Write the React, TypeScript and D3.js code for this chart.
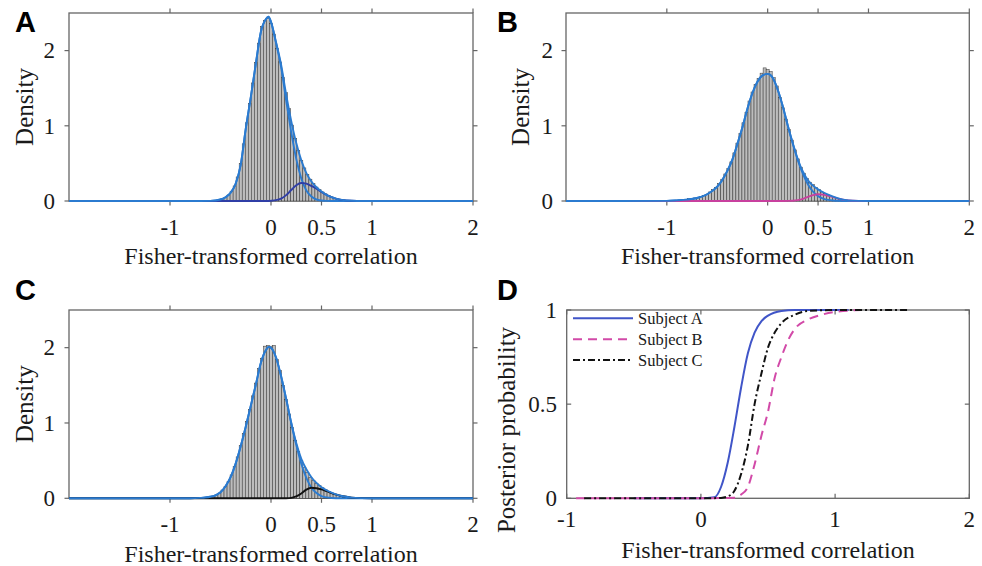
import React from "react";
import * as d3 from "d3";

const W = 982;
const H = 566;
const SERIF = "'Liberation Serif', 'Times New Roman', serif";
const SANS = "'Liberation Sans', Arial, sans-serif";

// ---------- Data ----------
const binWidth = 0.03;
const xTicksHist = [-1, 0, 0.5, 1, 2];
const yTicksHist = [0, 1, 2];
const xTicksD = [-1, 0, 1, 2];
const yTicksD = [0, 0.5, 1];

// Panel A
const histAFirst = -0.54;
const histA = [0.01, 0.015, 0.03, 0.05, 0.08, 0.13, 0.2, 0.32, 0.5, 0.76, 1.04, 1.3, 1.57, 1.84, 2.1, 2.32, 2.4, 2.43, 2.36, 2.22, 2.03, 1.85, 1.64, 1.44, 1.23, 1.01, 0.83, 0.67, 0.54, 0.44, 0.35, 0.29, 0.23, 0.185, 0.15, 0.12, 0.095, 0.072, 0.053, 0.038, 0.027, 0.019, 0.013, 0.009, 0.005];
const curveXA = [-2, -0.7, -0.6, -0.5, -0.45, -0.4, -0.35, -0.3, -0.25, -0.2, -0.15, -0.1, -0.05, -0.025, 0, 0.05, 0.1, 0.15, 0.2, 0.25, 0.3, 0.35, 0.4, 0.45, 0.5, 0.55, 0.6, 0.65, 0.7, 0.8, 0.9, 1.0, 2];
const mainA = [0, 0, 0.002, 0.02, 0.05, 0.11, 0.23, 0.48, 0.96, 1.38, 1.83, 2.25, 2.42, 2.45, 2.38, 2.1, 1.78, 1.34, 0.92, 0.56, 0.3, 0.14, 0.06, 0.02, 0.006, 0.001, 0, 0, 0, 0, 0, 0, 0];
const bumpA = [0, 0, 0, 0, 0, 0, 0, 0, 0, 0, 0, 0, 0, 0, 0.003, 0.011, 0.032, 0.078, 0.146, 0.21, 0.24, 0.23, 0.2, 0.163, 0.12, 0.081, 0.051, 0.029, 0.015, 0.003, 0, 0, 0];
const mixA = [0, 0, 0.002, 0.02, 0.05, 0.11, 0.23, 0.48, 0.96, 1.38, 1.83, 2.25, 2.42, 2.45, 2.383, 2.111, 1.812, 1.418, 1.066, 0.77, 0.54, 0.37, 0.26, 0.183, 0.126, 0.082, 0.051, 0.029, 0.015, 0.003, 0, 0, 0];

// Panel B
const histBFirst = -0.81;
const histB = [0.02, 0.03, 0.035, 0.04, 0.05, 0.06, 0.075, 0.09, 0.12, 0.15, 0.18, 0.23, 0.29, 0.36, 0.43, 0.52, 0.64, 0.77, 0.9, 1.04, 1.18, 1.33, 1.45, 1.55, 1.63, 1.7, 1.77, 1.75, 1.72, 1.64, 1.53, 1.38, 1.24, 1.09, 0.95, 0.81, 0.68, 0.56, 0.45, 0.37, 0.3, 0.25, 0.22, 0.18, 0.15, 0.12, 0.1, 0.08, 0.06, 0.045, 0.035, 0.025, 0.018, 0.012, 0.008, 0.005, 0.003, 0.002];
const curveXB = [-2, -1.0, -0.9, -0.8, -0.7, -0.6, -0.5, -0.45, -0.4, -0.35, -0.3, -0.25, -0.2, -0.15, -0.1, -0.05, 0, 0.05, 0.1, 0.15, 0.2, 0.25, 0.3, 0.35, 0.4, 0.45, 0.5, 0.55, 0.6, 0.65, 0.7, 0.8, 0.9, 1.0, 2];
const mainB = [0, 0.002, 0.008, 0.018, 0.04, 0.09, 0.19, 0.28, 0.4, 0.55, 0.76, 0.98, 1.23, 1.44, 1.59, 1.67, 1.69, 1.64, 1.48, 1.26, 1.0, 0.76, 0.54, 0.36, 0.22, 0.125, 0.065, 0.032, 0.015, 0.007, 0.003, 0, 0, 0, 0];
const bumpB = [0, 0, 0, 0, 0, 0, 0, 0, 0, 0, 0, 0, 0, 0, 0, 0, 0, 0, 0, 0, 0.001, 0.004, 0.012, 0.029, 0.055, 0.079, 0.09, 0.084, 0.07, 0.051, 0.032, 0.009, 0.0015, 0, 0];
const mixB = [0, 0.002, 0.008, 0.018, 0.04, 0.09, 0.19, 0.28, 0.4, 0.55, 0.76, 0.98, 1.23, 1.44, 1.59, 1.67, 1.69, 1.64, 1.48, 1.26, 1.001, 0.764, 0.552, 0.389, 0.275, 0.204, 0.155, 0.116, 0.085, 0.058, 0.035, 0.009, 0.0015, 0, 0];

// Panel C
const histCFirst = -0.63;
const histC = [0.015, 0.02, 0.03, 0.045, 0.07, 0.11, 0.16, 0.22, 0.31, 0.42, 0.55, 0.7, 0.86, 1.02, 1.18, 1.36, 1.53, 1.72, 1.86, 2.02, 2.03, 2.02, 2.03, 1.84, 1.7, 1.5, 1.31, 1.12, 0.94, 0.77, 0.62, 0.5, 0.41, 0.34, 0.28, 0.24, 0.2, 0.17, 0.14, 0.115, 0.09, 0.072, 0.055, 0.042, 0.032, 0.024, 0.017, 0.012, 0.008, 0.005, 0.003, 0.002];
const curveXC = [-2, -0.8, -0.7, -0.65, -0.6, -0.55, -0.5, -0.45, -0.4, -0.35, -0.3, -0.25, -0.2, -0.15, -0.1, -0.05, -0.02, 0, 0.05, 0.1, 0.15, 0.2, 0.25, 0.3, 0.35, 0.4, 0.45, 0.5, 0.55, 0.6, 0.65, 0.7, 0.8, 0.9, 1.0, 2];
const mainC = [0, 0, 0.005, 0.01, 0.02, 0.04, 0.08, 0.16, 0.28, 0.46, 0.69, 0.95, 1.23, 1.51, 1.8, 1.97, 2.01, 2.0, 1.87, 1.62, 1.32, 1.0, 0.71, 0.46, 0.27, 0.14, 0.07, 0.03, 0.012, 0.004, 0.001, 0, 0, 0, 0, 0];
const bumpC = [0, 0, 0, 0, 0, 0, 0, 0, 0, 0, 0, 0, 0, 0, 0, 0, 0, 0, 0, 0, 0.001, 0.006, 0.024, 0.064, 0.115, 0.14, 0.134, 0.118, 0.095, 0.07, 0.048, 0.03, 0.009, 0.002, 0, 0];
const mixC = [0, 0, 0.005, 0.01, 0.02, 0.04, 0.08, 0.16, 0.28, 0.46, 0.69, 0.95, 1.23, 1.51, 1.8, 1.97, 2.01, 2.0, 1.87, 1.62, 1.321, 1.006, 0.734, 0.524, 0.385, 0.28, 0.204, 0.148, 0.107, 0.074, 0.049, 0.03, 0.009, 0.002, 0, 0];

// Panel D (posterior probability)
const subjects = ["Subject A", "Subject B", "Subject C"];
const postAX = [-0.5, 0.0, 0.1, 0.15, 0.2, 0.25, 0.3, 0.35, 0.4, 0.45, 0.5, 0.6, 0.7, 0.9, 1.1];
const postAY = [0, 0, 0.005, 0.06, 0.19, 0.38, 0.59, 0.77, 0.88, 0.94, 0.97, 0.995, 1, 1, 1];
const postBX = [-0.93, 0, 0.25, 0.3, 0.35, 0.4, 0.45, 0.5, 0.55, 0.6, 0.65, 0.7, 0.8, 0.9, 1.0, 1.2];
const postBY = [0, 0, 0.003, 0.02, 0.06, 0.18, 0.33, 0.46, 0.64, 0.75, 0.84, 0.9, 0.95, 0.975, 0.99, 1];
const postCX = [-0.87, 0, 0.15, 0.2, 0.25, 0.3, 0.35, 0.4, 0.45, 0.5, 0.55, 0.6, 0.7, 0.8, 1.0, 1.54];
const postCY = [0, 0, 0.002, 0.01, 0.04, 0.13, 0.28, 0.5, 0.66, 0.8, 0.88, 0.93, 0.975, 0.995, 1, 1];

// ---------- Styles ----------
const BOX = "#666666";
const TXT = "#1a1a1a";
const BLUE = "#2b7bd0";
const NAVY = "#2f3ea6";
const MAGENTA = "#c8409e";
const DBLUE = "#4055c8";
const DMAG = "#d24aa8";

type Box = { x0: number; x1: number; y0: number; y1: number };

function Frame({ box, xs, ys, xTicks, yTicks, inward, xTickBase, yTickRight }: any) {
  const L = 4.5;
  const d = inward ? -1 : 1;
  return (
    <g>
      <rect x={box.x0} y={box.y0} width={box.x1 - box.x0} height={box.y1 - box.y0} fill="none" stroke={BOX} strokeWidth={1.3} />
      {xTicks.map((t: number) => (
        <g key={"x" + t}>
          <line x1={xs(t)} x2={xs(t)} y1={box.y1} y2={box.y1 + d * L} stroke={BOX} strokeWidth={1.2} />
          <line x1={xs(t)} x2={xs(t)} y1={box.y0} y2={box.y0 - d * L} stroke={BOX} strokeWidth={1.2} />
          <text x={xs(t)} y={xTickBase} textAnchor="middle" fontFamily={SERIF} fontSize={23} fill={TXT}>{String(t)}</text>
        </g>
      ))}
      {yTicks.map((t: number) => (
        <g key={"y" + t}>
          <line x1={box.x0} x2={box.x0 - d * L} y1={ys(t)} y2={ys(t)} stroke={BOX} strokeWidth={1.2} />
          <line x1={box.x1} x2={box.x1 + d * L} y1={ys(t)} y2={ys(t)} stroke={BOX} strokeWidth={1.2} />
          <text x={yTickRight} y={ys(t)} dy="0.34em" textAnchor="end" fontFamily={SERIF} fontSize={23} fill={TXT}>{String(t)}</text>
        </g>
      ))}
    </g>
  );
}

function HistPanel(props: any) {
  const { box, letter, letterPos, hist, histFirst, curveX, main, bump, mix, bumpColor, yLabelX, xTickBase, xLabelBase, yTickRight } = props;
  const xs = d3.scaleLinear().domain([-2, 2]).range([box.x0, box.x1]);
  const ys = d3.scaleLinear().domain([0, 2.5]).range([box.y1, box.y0]);
  const line = d3
    .line<number>()
    .x((_, i) => xs(curveX[i]))
    .y((v) => ys(v))
    .curve(d3.curveMonotoneX);
  const bw = xs(binWidth) - xs(0);
  return (
    <g>
      <Frame box={box} xs={xs} ys={ys} xTicks={xTicksHist} yTicks={yTicksHist} inward={false} xTickBase={xTickBase} yTickRight={yTickRight} />
      {hist.map((h: number, i: number) => {
        const c = histFirst + i * binWidth;
        return (
          <rect key={i} x={xs(c) - bw / 2} y={ys(h)} width={bw} height={ys(0) - ys(h)} fill="#bdbdbd" stroke="#303030" strokeWidth={0.5} />
        );
      })}
      <path d={line(main) || ""} fill="none" stroke={BLUE} strokeWidth={1.9} />
      <path d={line(bump) || ""} fill="none" stroke={bumpColor} strokeWidth={1.9} />
      <path d={line(mix) || ""} fill="none" stroke={BLUE} strokeWidth={1.9} />
      <text x={letterPos[0]} y={letterPos[1]} fontFamily={SANS} fontWeight="bold" fontSize={29} fill="#000">{letter}</text>
      <text transform={`translate(${yLabelX},${(box.y0 + box.y1) / 2}) rotate(-90)`} textAnchor="middle" fontFamily={SERIF} fontSize={25} fill={TXT}>Density</text>
      <text x={(box.x0 + box.x1) / 2} y={xLabelBase} textAnchor="middle" fontFamily={SERIF} fontSize={24} fill={TXT}>Fisher-transformed correlation</text>
    </g>
  );
}

function PanelD() {
  const box: Box = { x0: 566.7, x1: 969.3, y0: 310, y1: 498.3 };
  const xs = d3.scaleLinear().domain([-1, 2]).range([box.x0, box.x1]);
  const ys = d3.scaleLinear().domain([0, 1]).range([box.y1, box.y0]);
  const mk = (X: number[]) =>
    d3
      .line<number>()
      .x((_, i) => xs(X[i]))
      .y((v) => ys(v))
      .curve(d3.curveMonotoneX);
  const series = [
    { name: subjects[0], X: postAX, Y: postAY, color: DBLUE, dash: "none" },
    { name: subjects[1], X: postBX, Y: postBY, color: DMAG, dash: "9 6" },
    { name: subjects[2], X: postCX, Y: postCY, color: "#111", dash: "7 3 2 3" },
  ];
  const legY = [318.3, 339.3, 360];
  return (
    <g>
      <Frame box={box} xs={xs} ys={ys} xTicks={xTicksD} yTicks={yTicksD} inward={true} xTickBase={527} yTickRight={557} />
      {series.map((s) => (
        <path key={s.name} d={mk(s.X)(s.Y) || ""} fill="none" stroke={s.color} strokeWidth={2} strokeDasharray={s.dash} />
      ))}
      {series.map((s, i) => (
        <g key={"l" + s.name}>
          <line x1={573} x2={633} y1={legY[i]} y2={legY[i]} stroke={s.color} strokeWidth={2} strokeDasharray={s.dash} />
          <text x={638} y={legY[i] + 6} fontFamily={SERIF} fontSize={16.5} fill={TXT}>{s.name}</text>
        </g>
      ))}
      <text x={497} y={300} fontFamily={SANS} fontWeight="bold" fontSize={29} fill="#000">D</text>
      <text transform={`translate(515,430) rotate(-90)`} textAnchor="middle" fontFamily={SERIF} fontSize={25} fill={TXT}>Posterior probability</text>
      <text x={(box.x0 + box.x1) / 2} y={558} textAnchor="middle" fontFamily={SERIF} fontSize={24} fill={TXT}>Fisher-transformed correlation</text>
    </g>
  );
}

export default function App() {
  return (
    <svg width={W} height={H} viewBox={`0 0 ${W} ${H}`} style={{ position: "absolute", left: 0, top: 0, background: "#fff" }}>
      <rect x={0} y={0} width={W} height={H} fill="#fff" />
      <HistPanel
        box={{ x0: 69, x1: 473, y0: 13, y1: 201 }}
        letter="A" letterPos={[15, 32]}
        hist={histA} histFirst={histAFirst}
        curveX={curveXA} main={mainA} bump={bumpA} mix={mixA} bumpColor={NAVY}
        yLabelX={33} xTickBase={235} xLabelBase={264} yTickRight={55}
      />
      <HistPanel
        box={{ x0: 566, x1: 969.3, y0: 13, y1: 201 }}
        letter="B" letterPos={[497, 32]}
        hist={histB} histFirst={histBFirst}
        curveX={curveXB} main={mainB} bump={bumpB} mix={mixB} bumpColor={MAGENTA}
        yLabelX={529} xTickBase={235} xLabelBase={264} yTickRight={553}
      />
      <HistPanel
        box={{ x0: 69, x1: 473, y0: 310, y1: 498.3 }}
        letter="C" letterPos={[15, 300]}
        hist={histC} histFirst={histCFirst}
        curveX={curveXC} main={mainC} bump={bumpC} mix={mixC} bumpColor="#111"
        yLabelX={33} xTickBase={531.7} xLabelBase={562} yTickRight={55}
      />
      <PanelD />
    </svg>
  );
}
